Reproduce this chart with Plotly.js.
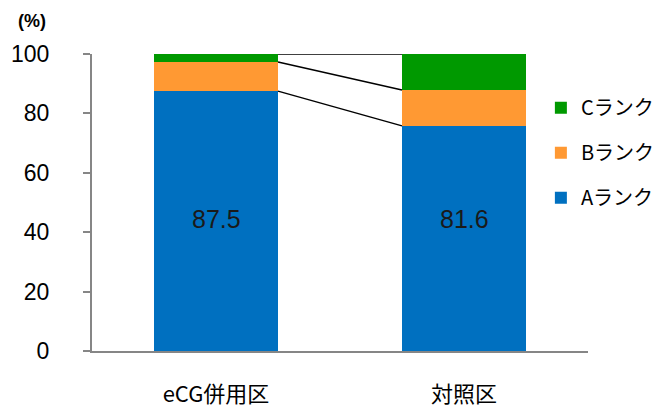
<!DOCTYPE html>
<html>
<head>
<meta charset="utf-8">
<script src="https://cdn.plot.ly/plotly-3.0.1.min.js"></script>
<style>html,body{margin:0;padding:0;background:#fff;}#chart{width:672px;height:408px;}</style>
</head>
<body>
<div id="chart"></div>
<script>
// ---- data ----
const categories = ["eCG併用区", "対照区"];
const rankA = [87.5, 75.8];
const rankB = [9.8, 12.1];
const rankC = [2.7, 12.1];
const rankALabels = ["87.5", "81.6"];
const seriesNames = ["Aランク", "Bランク", "Cランク"];
const yTicks = [0, 20, 40, 60, 80, 100];

// ---- styling ----
const colors = ["#0070C0", "#FF9933", "#009900"];
const numFont = "'Liberation Sans', Arial, sans-serif";
const jpFont = "'Noto Sans CJK JP', 'Noto Sans', sans-serif";
const labelY = 44.5;      // vertical position of the value labels (data units)
const barWidth = 0.5;

const seriesValues = [rankA, rankB, rankC];
const traces = seriesValues.map((vals, i) => ({
  type: "bar",
  x: categories,
  y: vals,
  name: seriesNames[i],
  legendgroup: "g" + i,
  legendrank: 1000 - i,
  marker: {color: colors[i], line: {width: 0}},
  width: barWidth,
  hoverinfo: "skip"
}));

// connector lines between the two stacked bars (series lines)
const shapes = [];
const cumA = rankA;
const cumAB = rankA.map((v, i) => v + rankB[i]);
const cumABC = cumAB.map((v, i) => v + rankC[i]);
[cumA, cumAB, cumABC].forEach(level => {
  shapes.push({
    type: "line", xref: "x", yref: "y",
    x0: 0 + barWidth / 2, y0: level[0],
    x1: 1 - barWidth / 2, y1: level[1],
    line: {color: "#000000", width: 1.5}
  });
});

const annotations = categories.map((c, i) => ({
  x: c, y: labelY, xref: "x", yref: "y",
  text: rankALabels[i], showarrow: false,
  font: {family: numFont, size: 25, color: "#1a1a1a"}
}));
annotations.push({
  x: -0.12, y: 1.11, xref: "paper", yref: "paper",
  xanchor: "center", yanchor: "middle",
  text: "<b>(%)</b>", showarrow: false,
  font: {family: numFont, size: 18, color: "#000"}
});

const layout = {
  width: 672, height: 408,
  margin: {l: 92, r: 79, t: 54, b: 57, pad: 0},
  paper_bgcolor: "#ffffff",
  plot_bgcolor: "#ffffff",
  barmode: "stack",
  showlegend: true,
  legend: {
    x: 0.905, xanchor: "left",
    y: 0.885, yanchor: "top",
    traceorder: "grouped",
    tracegroupgap: 16,
    font: {family: jpFont, size: 20, color: "#000"},
    bgcolor: "rgba(0,0,0,0)"
  },
  xaxis: {
    type: "category",
    range: [-0.5, 1.5],
    showline: true, linecolor: "#868686", linewidth: 2,
    ticks: "", showgrid: false, zeroline: false,
    ticklabelstandoff: 23,
    tickfont: {family: jpFont, size: 22, color: "#000"},
    fixedrange: true
  },
  yaxis: {
    range: [0, 100],
    tickvals: yTicks,
    ticktext: yTicks.map(String),
    showline: true, linecolor: "#868686", linewidth: 2,
    ticks: "outside", ticklen: 7, tickwidth: 2, tickcolor: "#868686",
    showgrid: false, zeroline: false,
    ticklabelstandoff: 29,
    tickfont: {family: numFont, size: 23, color: "#000"},
    fixedrange: true
  },
  shapes: shapes,
  annotations: annotations
};

Plotly.newPlot("chart", traces, layout, {displayModeBar: false, staticPlot: true});
</script>
</body>
</html>
